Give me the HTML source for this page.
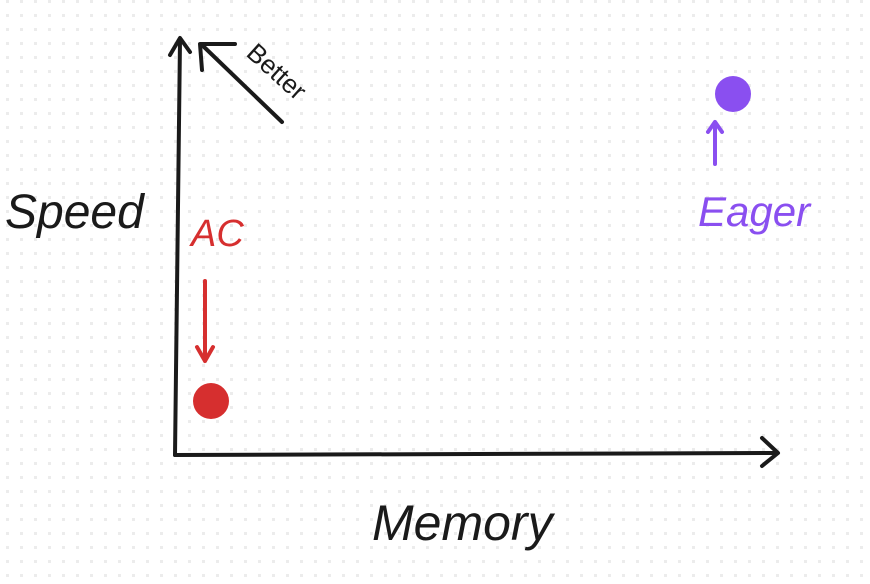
<!DOCTYPE html>
<html><head><meta charset="utf-8"><style>
html,body{margin:0;padding:0;background:#fff;}
svg{display:block;}
text{font-family:"Liberation Sans",sans-serif;}
</style></head><body>
<svg id="chart" width="870" height="584" viewBox="0 0 870 584" xmlns="http://www.w3.org/2000/svg">
<defs>
<pattern id="dots" x="6" y="0" width="14" height="14" patternUnits="userSpaceOnUse">
<rect x="0" y="0" width="3" height="3" fill="#ececec"/>
</pattern>
</defs>
<rect width="870" height="584" fill="url(#dots)"/>
<g fill="none" stroke="#1a1a1a" stroke-width="4" stroke-linecap="round" stroke-linejoin="round">
<path d="M175 455 L180 40"/>
<path d="M170 55 L180 38 L190 52"/>
<path d="M175 455 L776 453"/>
<path d="M762 438 L778 453 L762 466"/>
<path d="M282 122 L202 45"/>
<path d="M202 70 L200 44 L235 44"/>
</g>
<text x="245" y="55" font-size="26" fill="#1a1a1a" transform="rotate(42 245 55)">Better</text>
<text x="5" y="228" font-size="48" fill="#1a1a1a" font-style="italic">Speed</text>
<text x="372" y="540" font-size="50" fill="#1a1a1a" font-style="italic">Memory</text>
<g id="points"></g>
</svg>
<script>
const names = ["AC", "Eager"];
const memory = [0.06, 0.93];
const speed = [0.13, 0.87];
const colors = ["#d62f2f", "#8a4ff0"];
const xScale = v => 175 + v * 600;
const yScale = v => 455 - v * 415;
const g = document.getElementById('points');
const NS = "http://www.w3.org/2000/svg";
for (let i = 0; i < names.length; i++) {
  const cx = xScale(memory[i]), cy = yScale(speed[i]);
  const c = document.createElementNS(NS, 'circle');
  
  
  c.setAttribute('cx', cx); c.setAttribute('cy', cy); c.setAttribute('r', 18);
  c.setAttribute('fill', colors[i]);
  g.appendChild(c);
  const up = speed[i] > 0.5;
  const a = document.createElementNS(NS, 'path');
  
  
  let d;
  if (up) d = `M${cx-18} ${cy+70} L${cx-18} ${cy+28} M${cx-25} ${cy+38} L${cx-18} ${cy+28} L${cx-11} ${cy+38}`;
  else d = `M${cx-6} ${cy-120} L${cx-6} ${cy-40} M${cx-14} ${cy-54} L${cx-6} ${cy-40} L${cx+2} ${cy-54}`;
  a.setAttribute('d', d);
  a.setAttribute('fill', 'none'); a.setAttribute('stroke', colors[i]);
  a.setAttribute('stroke-width', '4'); a.setAttribute('stroke-linecap', 'round'); a.setAttribute('stroke-linejoin', 'round');
  g.appendChild(a);
  const t = document.createElementNS(NS, 'text');
  
  
  t.setAttribute('fill', colors[i]);
  t.setAttribute('font-size', up ? '42' : '38');
  t.setAttribute('font-style', 'italic');
  if (up) { t.setAttribute('x', cx - 35); t.setAttribute('y', cy + 132); }
  else { t.setAttribute('x', cx - 20); t.setAttribute('y', cy - 155); }
  t.textContent = names[i];
  g.appendChild(t);
}
</script>
</body></html>
